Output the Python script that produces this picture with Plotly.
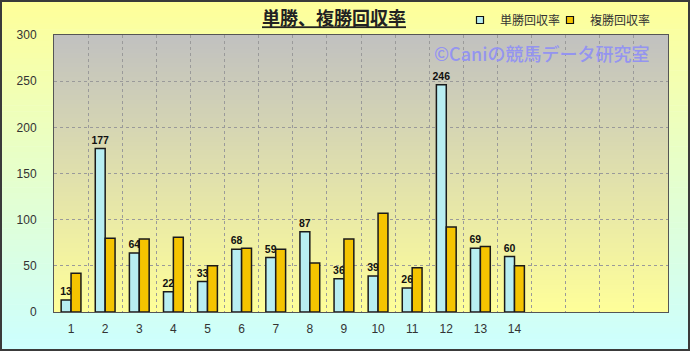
import plotly.graph_objects as go

# ---- data ----
races = [1, 2, 3, 4, 5, 6, 7, 8, 9, 10, 11, 12, 13, 14]
race_labels = ["1", "2", "3", "4", "5", "6", "7", "8", "9", "10", "11", "12", "13", "14"]
tansho = [13, 177, 64, 22, 33, 68, 59, 87, 36, 39, 26, 246, 69, 60]
fukusho = [42, 80, 79, 81, 50, 69, 68, 53, 79, 107, 48, 92, 71, 50]
series_names = ["単勝回収率", "複勝回収率"]
title_text = "単勝、複勝回収率"
watermark = "©Caniの競馬データ研究室"
y_ticks = [0, 50, 100, 150, 200, 250, 300]

# ---- styles ----
W, H = 690, 351
ML, MR, MT, MB = 54, 22, 35, 39
PW, PH = W - ML - MR, H - MT - MB
CYAN = "#b8eef2"
GOLD = "#f5c400"
JP = "Noto Sans CJK JP"


def mix(c1, c2, t):
    return "rgb(%d,%d,%d)" % tuple(round(a + (b - a) * t) for a, b in zip(c1, c2))


shapes = []
N = 60
py0, py1 = -MB / PH, 1 + MT / PH
px0, px1 = -ML / PW, 1 + MR / PW
for i in range(N):
    t = (i + 0.5) / N
    shapes.append(dict(type="rect", xref="paper", yref="paper", layer="below",
                       x0=px0, x1=px1,
                       y0=py1 - (py1 - py0) * i / N, y1=py1 - (py1 - py0) * (i + 1) / N - 0.002,
                       fillcolor=mix((255, 255, 153), (204, 255, 255), t), line_width=0))
for i in range(N):
    t = (i + 0.5) / N
    shapes.append(dict(type="rect", xref="x domain", yref="y domain", layer="below",
                       x0=0, x1=1, y0=1 - i / N, y1=1 - (i + 1) / N - 0.003,
                       fillcolor=mix((192, 192, 192), (255, 255, 153), t), line_width=0))
shapes.append(dict(type="rect", xref="paper", yref="paper", layer="above",
                   x0=px0 + 1 / PW, x1=px1 - 1 / PW, y0=py0 + 1 / PH, y1=py1 - 1 / PH,
                   line=dict(color="#3a3a3a", width=2), fillcolor="rgba(0,0,0,0)"))

fig = go.Figure()
fig.add_trace(go.Bar(x=races, y=tansho, name=series_names[0],
                     marker=dict(color=CYAN, line=dict(color="#1a1a1a", width=1.5)),
                     texttemplate="%{y}", textposition="outside", cliponaxis=False, constraintext="none",
                     textfont=dict(family="Liberation Sans", size=10.5, color="#111111", weight="bold"),
                     showlegend=False))
fig.add_trace(go.Bar(x=races, y=fukusho, name=series_names[1],
                     marker=dict(color=GOLD, line=dict(color="#1a1a1a", width=1.5)),
                     showlegend=False))
for nm, col, lg in zip(series_names, [CYAN, GOLD], ["legend", "legend2"]):
    fig.add_trace(go.Scatter(x=[None], y=[None], mode="markers", name=nm, legend=lg,
                             marker=dict(symbol="square", size=7, color=col, line=dict(color="#111111", width=1.2))))

fig.add_annotation(text=watermark, xref="paper", yref="paper",
                   x=(542 - ML) / PW, y=(H - MB - 53) / PH, xanchor="center", yanchor="middle",
                   showarrow=False, font=dict(family=JP, size=18, color="#9494f0", weight=500))

leg_common = dict(orientation="h", xanchor="left", yanchor="middle",
                  font=dict(family=JP, size=12, color="#333333"), bgcolor="rgba(0,0,0,0)",
                  itemwidth=30)

fig.update_layout(
    width=W, height=H, margin=dict(l=ML, r=MR, t=MT, b=MB, autoexpand=False),
    paper_bgcolor="#ffffff", plot_bgcolor="rgba(0,0,0,0)",
    barmode="group", bargap=0.42, bargroupgap=0,
    shapes=shapes,
    title=dict(text="<b><u>" + title_text + "</u></b>", x=334 / W, xref="container", xanchor="center",
               y=1 - 19 / H, yref="container", yanchor="middle",
               font=dict(family=JP, size=18, color="#222222")),
    legend=dict(x=(460 - ML) / PW, y=(H - MB - 20) / PH, **leg_common),
    legend2=dict(x=(550 - ML) / PW, y=(H - MB - 20) / PH, **leg_common),
    font=dict(family="Liberation Sans", size=12, color="#333333"),
    xaxis=dict(range=[0.5, 18.5], tickvals=races, ticktext=race_labels, showgrid=False,
               showline=True, linecolor="#555555", linewidth=1, mirror=True, ticks="",
               ticklabelstandoff=6, zeroline=False,
               minor=dict(tick0=0.5, dtick=1, showgrid=True, gridcolor="#9a9a9a", griddash="dot", gridwidth=1)),
    yaxis=dict(range=[0, 300], tickvals=y_ticks, showgrid=True, gridcolor="#9a9a9a", griddash="dot",
               showline=True, linecolor="#555555", linewidth=1, mirror=True, ticks="",
               ticklabelstandoff=14, zeroline=False),
)

fig.write_html("out.html")
